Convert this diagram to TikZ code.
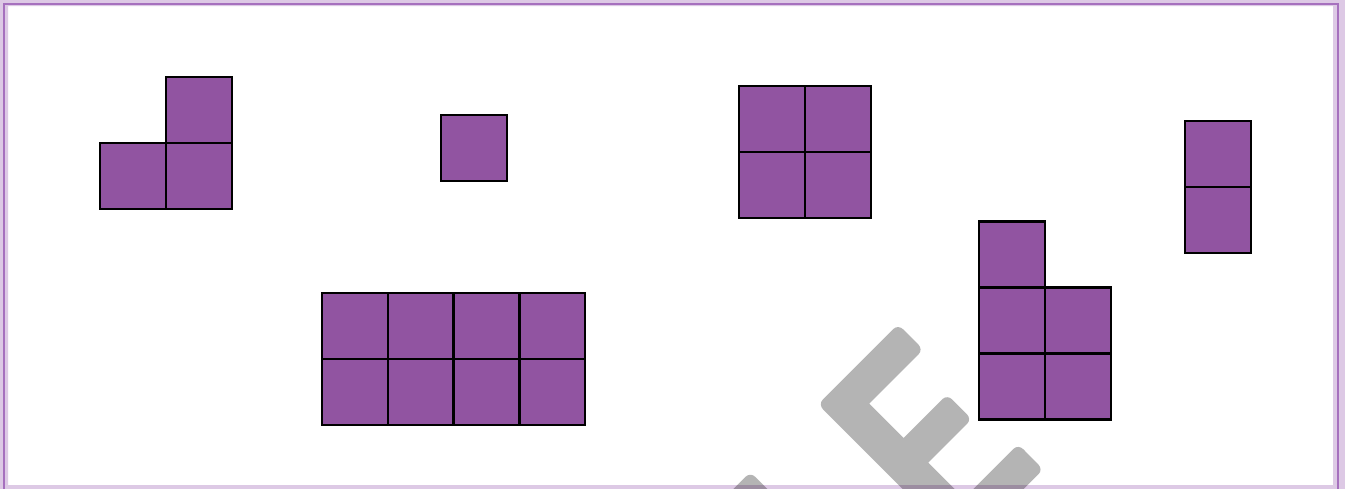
\documentclass[tikz,border=0pt]{standalone}
\usepackage{fontspec}
\newfontfamily\wmfont{Carlito}
\definecolor{lav}{RGB}{221,201,229}
\definecolor{frameline}{RGB}{166,112,190}
\definecolor{cellfill}{RGB}{145,84,161}
\definecolor{wmgray}{RGB}{180,180,180}
\newcommand{\wmstroke}{\special{pdf:literal direct 2 Tr 1 j 1 J 14 w}}
\newcommand{\wmplain}{\special{pdf:literal direct 0 Tr}}
\tikzset{
  cell/.style={draw=black, fill=cellfill, line width=2.5pt, line join=miter},
  wmark/.style={inner sep=0pt, outer sep=0pt,
    font=\wmfont\fontsize{298}{298}\selectfont}
}
\begin{document}
\begin{tikzpicture}[x=1pt,y=-1pt]
\useasboundingbox (0,0) rectangle (1345,489);
\clip (0,0) rectangle (1345,489);
% page
\fill[white] (0,0) rectangle (1345,489);
% shape 1: L-tromino
\draw[cell] (166,77) rectangle ++(66,66);
\draw[cell] (100,143) rectangle ++(66,66);
\draw[cell] (166,143) rectangle ++(66,66);
% shape 2: single square
\draw[cell] (441,115) rectangle ++(66,66);
% shape 3: 2x2
\foreach \i in {0,1}{\foreach \j in {0,1}{
  \draw[cell] (739+66*\i,86+66*\j) rectangle ++(66,66);}}
% shape 4: 4x2
\foreach \i in {0,...,3}{\foreach \j in {0,1}{
  \draw[cell] (322+65.75*\i,293+66*\j) rectangle ++(65.75,66);}}
% shape 5
\draw[cell] (979,221.5) rectangle ++(66,66);
\foreach \i in {0,1}{\foreach \j in {0,1}{
  \draw[cell] (979+66*\i,287.5+66*\j) rectangle ++(66,66);}}
% shape 6
\draw[cell] (1185,121) rectangle ++(66,66);
\draw[cell] (1185,187) rectangle ++(66,66);
% watermark
\begin{scope}[shift={(928,439.6)}, rotate=45, xscale=0.9, transform shape]
  \node[wmark] (wmE) at (0,0) {\color{wmgray}\wmstroke E\wmplain};
  \node[wmark] (wmL) at (-155.9,0) {\color{wmgray}\wmstroke L\wmplain};
\end{scope}
% frame band (multiplied over the watermark)
\begin{scope}[blend mode=multiply]
  \fill[lav, even odd rule] (0,0) rectangle (1345,489) (8,6.2) rectangle (1333,485);
\end{scope}
\draw[frameline, line width=2pt] (4,4.5) rectangle (1337.5,495);
\end{tikzpicture}
\end{document}
